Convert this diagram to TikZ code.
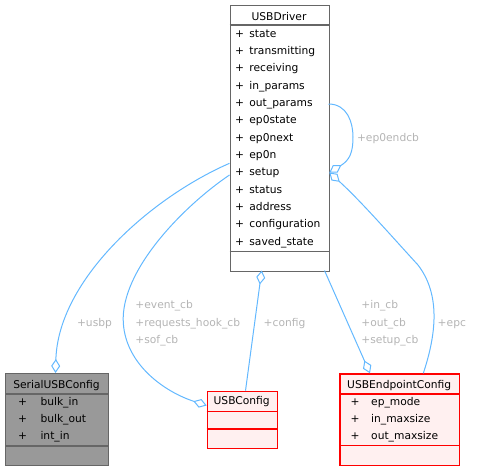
\documentclass[tikz,border=0pt]{standalone}
\usepackage{fontspec}
\setmainfont{DejaVu Sans}
\usetikzlibrary{arrows.meta}
\definecolor{edgeblue}{HTML}{63B8FF}
\definecolor{lblgray}{HTML}{B4B4B4}
\definecolor{graybox}{HTML}{999999}
\definecolor{grayline}{HTML}{666666}
\definecolor{redline}{HTML}{FF0000}
\definecolor{redfill}{HTML}{FFF0F0}
\tikzset{
  txt/.style={inner sep=0pt,outer sep=0pt,font=\fontsize{10.7}{12}\selectfont,anchor=base west},
  ctxt/.style={txt,anchor=base},
  lbl/.style={txt,text=lblgray},
  drvbox/.style={draw=grayline,fill=white,line width=1.2pt,inner sep=0pt,minimum width=99pt,minimum height=265.5pt,anchor=north west},
  gbox/.style={draw=grayline,fill=graybox,line width=1.2pt,inner sep=0pt,anchor=north west},
  rbox/.style={draw=redline,fill=redfill,line width=1.3pt,inner sep=0pt,anchor=north west},
  gsep/.style={draw=grayline,line width=1.2pt},
  rsep/.style={draw=redline,line width=1.3pt},
  conn/.style={draw=edgeblue,line width=1pt,-{Diamond[open,length=14pt,width=9pt,line width=1pt]}}
}
\begin{document}
\begin{tikzpicture}[x=1pt,y=-1pt]
\useasboundingbox (0,0) rectangle (477,471);

% USBDriver
\node[drvbox] (drv) at (229.5,5) {};
\draw[gsep] (229.5,25) -- (328.5,25);
\draw[gsep] (229.5,251.5) -- (328.5,251.5);
\node[ctxt] (drvT) at (279,20) {USBDriver};
\foreach \n [count=\i from 0] in {state,transmitting,receiving,in\_params,out\_params,ep0state,ep0next,ep0n,setup,status,address,configuration,saved\_state}{
  \node[ctxt] (drvP\i) at ({239.5},{37.3+17.33*\i}) {+};
  \node[txt] (drvA\i) at ({249.4},{37.3+17.33*\i}) {\n};
}

% SerialUSBConfig
\node[gbox,minimum width=103pt,minimum height=92pt] (suc) at (5,373) {};
\draw[gsep] (5,394) -- (108,394);
\draw[gsep] (5,446) -- (108,446);
\node[ctxt] (sucT) at (56.5,388) {SerialUSBConfig};
\foreach \n [count=\i from 0] in {bulk\_in,bulk\_out,int\_in}{
  \node[ctxt] (sucP\i) at ({22.7},{405+17.33*\i}) {+};
  \node[txt] (sucA\i) at ({40.5},{405+17.33*\i}) {\n};
}

% USBConfig
\node[rbox,minimum width=70pt,minimum height=57pt] (ucfg) at (206.7,390.7) {};
\draw[rsep] (206.7,411.7) -- (276.7,411.7);
\draw[rsep] (206.7,429) -- (276.7,429);
\node[ctxt] (ucfgT) at (241.7,404.7) {USBConfig};

% USBEndpointConfig
\node[rbox,minimum width=119.7pt,minimum height=91.7pt] (uec) at (339.3,373.3) {};
\draw[rsep] (339.3,394) -- (459,394);
\draw[rsep] (339.3,445.7) -- (459,445.7);
\node[ctxt] (uecT) at (399.2,388) {USBEndpointConfig};
\foreach \n [count=\i from 0] in {ep\_mode,in\_maxsize,out\_maxsize}{
  \node[ctxt] (uecP\i) at ({355},{405+17.33*\i}) {+};
  \node[txt] (uecA\i) at ({371.2},{405+17.33*\i}) {\n};
}

% connection points
\coordinate (drvL1) at (229.5,163.3);
\coordinate (drvL2) at (229.5,175);
\coordinate (drvB1) at (261.7,270.5);
\coordinate (drvB2) at (324.5,270.5);
\coordinate (drvR1) at (328.5,104);
\coordinate (drvR2) at (329.3,172.5);
\coordinate (sucTop) at (55.5,373);
\coordinate (ucfgL) at (206.7,405.5);
\coordinate (ucfgTop) at (245.5,390.7);
\coordinate (uecT1) at (370,373.3);
\coordinate (uecT2) at (423.3,373.3);
\coordinate (loopA) at (353,137);
\coordinate (cbA) at (123.3,323);
\coordinate (epcA) at (418,265);

% connectors
\draw[conn] (drvL1) .. controls (150,198) and (58,280) .. (sucTop);
\draw[conn] (drvL2) .. controls (185,205) and (120,270) .. (cbA) .. controls (126,365) and (165,392) .. (ucfgL);
\draw[conn] (ucfgTop) -- (drvB1);
\draw[conn] (drvB2) -- (uecT1);
\draw[conn] (uecT2) .. controls (436,335) and (441,295) .. (epcA) .. controls (395,240) and (360,200) .. (drvR2);
\draw[conn] (drvR1) .. controls (347,104) and (353,122) .. (loopA) .. controls (353,152) and (350,160) .. (drvR2);

% labels
\node[lbl] (lUsbp) at (77,326.3) {+usbp};
\node[lbl] (lEv) at (135.4,308.3) {+event\_cb};
\node[lbl] (lReq) at (135.4,326.3) {+requests\_hook\_cb};
\node[lbl] (lSof) at (135.4,343.7) {+sof\_cb};
\node[lbl] (lCfg) at (263.7,326) {+config};
\node[lbl] (lIn) at (361.4,308.3) {+in\_cb};
\node[lbl] (lOut) at (361.4,326) {+out\_cb};
\node[lbl] (lSet) at (361.4,343.5) {+setup\_cb};
\node[lbl] (lEpc) at (437.7,326) {+epc};
\node[lbl] (lEp0) at (357,141.3) {+ep0endcb};
\end{tikzpicture}
\end{document}
